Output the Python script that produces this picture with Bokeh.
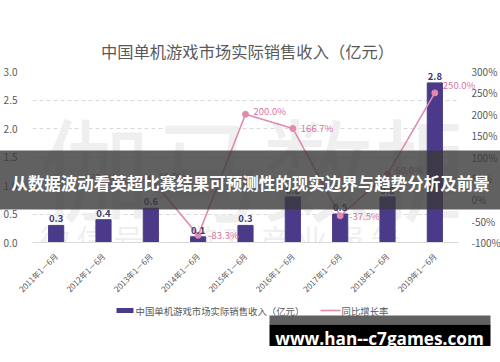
from bokeh.plotting import figure
from bokeh.models import (Range1d, LinearAxis, ColumnDataSource, FixedTicker, PrintfTickFormatter)
from bokeh.embed import file_html
from bokeh.resources import INLINE
from bokeh.core.properties import value

# ---- data ----
periods = ["2011年1－6月", "2012年1－6月", "2013年1－6月", "2014年1－6月", "2015年1－6月",
           "2016年1－6月", "2017年1－6月", "2018年1－6月", "2019年1－6月"]
revenue = [0.3, 0.4, 0.6, 0.1, 0.3, 0.8, 0.5, 0.8, 2.8]
growth = [33.3, 50.0, -83.3, 200.0, 166.7, -37.5, 60.0, 250.0]   # from 2012 on
left_ticks = [0.0, 0.5, 1.0, 1.5, 2.0, 2.5, 3.0]
right_ticks = [-100, -50, 0, 50, 100, 150, 200, 250, 300]

title_text = "中国单机游戏市场实际销售收入（亿元）"
bar_name = "中国单机游戏市场实际销售收入（亿元）"
line_name = "同比增长率"
banner_text = "从数据波动看英超比赛结果可预测性的现实边界与趋势分析及前景"
site_text = "www.han--c7games.com"
watermark_big = "伽马数据"
watermark_small = "微  信  号  ：  游  戏  产  业  报  告"

# label styling (offsets in px)
pct_align = ["center", "left", "left", "left", "left", "left", "left", "left"]
pct_dx = [0, 8, 10, 8, 8, 9, 8, 8]
pct_dy = [-9, -2, 0, -3, 0, 0, -4, -8]

FONT = "Noto Sans CJK SC"
BAR_COLOR = "#4b3a8a"
LINE_COLOR = "#e08ab0"
PCT_TEXT = "#d9739f"
AX_TEXT = "#595959"

# layout (canvas px)
W, H = 484, 346
FL, FT, FW, FH = 24, 71, 426, 171

idx = list(range(len(periods)))
bar_src = ColumnDataSource(dict(pos=idx, revenue=revenue,
                                label=[f"{v:.1f}" for v in revenue]))
line_src = ColumnDataSource(dict(pos=idx[1:], growth=growth,
                                 label=[f"{v:.1f}%" for v in growth],
                                 align=pct_align, dx=pct_dx, dy=pct_dy))

p = figure(x_range=Range1d(-0.5, len(periods) - 0.5), y_range=Range1d(0, 3),
           frame_width=FW, frame_height=FH,
           min_border_left=FL, min_border_right=W - FL - FW,
           min_border_top=FT, min_border_bottom=H - FT - FH,
           output_backend="svg", toolbar_location=None,
           background_fill_color="white", border_fill_color="white", outline_line_color=None)
p.extra_y_ranges = {"pct": Range1d(-100, 300),
                    "cy": Range1d(FT + FH, FT)}          # canvas pixel rows (y down)
p.extra_x_ranges = {"cx": Range1d(FL, FL + FW)}           # canvas pixel columns

def cv(**kw):
    kw.update(x_range_name="cx", y_range_name="cy")
    return kw

# watermark
p.text(**cv(x=[254], y=[164], text=[watermark_big], text_font=value(FONT),
            text_font_size="112px", text_color="#efefef", text_align="center",
            text_baseline="middle"))
p.text(**cv(x=[242], y=[237], text=[watermark_small], text_font=value(FONT),
            text_font_size="30px", text_color="#efefef", text_align="center",
            text_baseline="middle"))

# axes
p.xaxis.ticker = FixedTicker(ticks=idx)
p.xaxis.major_label_overrides = {i: s for i, s in zip(idx, periods)}
p.xaxis.major_label_orientation = 0.785398
p.xaxis.major_label_text_font = FONT
p.xaxis.major_label_text_font_size = "8px"
p.xaxis.major_label_text_color = AX_TEXT
p.xaxis.axis_line_color = "#d9d9d9"
p.xaxis.major_tick_line_color = None
p.xaxis.minor_tick_line_color = None
p.xaxis.major_label_standoff = 6

p.yaxis.ticker = FixedTicker(ticks=left_ticks)
p.yaxis.formatter = PrintfTickFormatter(format="%.1f")
p.yaxis.axis_line_color = None
p.yaxis.major_tick_line_color = None
p.yaxis.minor_tick_line_color = None
p.yaxis.major_label_text_font = FONT
p.yaxis.major_label_text_font_size = "10px"
p.yaxis.major_label_text_color = AX_TEXT
p.yaxis.major_label_standoff = 9

ry = LinearAxis(y_range_name="pct", ticker=FixedTicker(ticks=right_ticks),
                formatter=PrintfTickFormatter(format="%d%%"))
ry.axis_line_color = None
ry.major_tick_line_color = None
ry.minor_tick_line_color = None
ry.major_label_text_font = FONT
ry.major_label_text_font_size = "10px"
ry.major_label_text_color = AX_TEXT
ry.major_label_standoff = 7
p.add_layout(ry, "right")

p.xgrid.grid_line_color = None
p.ygrid.grid_line_color = "#d9d9d9"
p.ygrid.grid_line_dash = "4 3"

# bars
bars = p.vbar(x="pos", top="revenue", width=0.32, source=bar_src,
              fill_color=BAR_COLOR, line_color=BAR_COLOR)
p.text(x="pos", y="revenue", text="label", source=bar_src, text_align="center",
       text_baseline="bottom", y_offset=-3, text_font=value(FONT), text_font_size="9.5px",
       text_color="#3d3a6e", text_font_style="bold", level="overlay")

# growth line
ln = p.line(x="pos", y="growth", y_range_name="pct", source=line_src,
            line_color=LINE_COLOR, line_width=1.6)
mk = p.scatter(x="pos", y="growth", y_range_name="pct", source=line_src,
               size=6, fill_color=LINE_COLOR, line_color=LINE_COLOR)
p.text(x="pos", y="growth", y_range_name="pct", text="label", source=line_src,
       text_align="align", x_offset="dx", y_offset="dy", text_baseline="middle",
       text_font=value(FONT), text_font_size="9.5px", text_color=PCT_TEXT, level="overlay")

# title
p.text(**cv(x=[239], y=[50], text=[title_text], text_font=value(FONT),
            text_font_size="16.3px", text_color=AX_TEXT, text_align="center",
            text_baseline="middle", level="overlay"))

# legend (drawn below the axis labels)
p.quad(**cv(left=[108], right=[125], top=[307.5], bottom=[312.5], fill_color=BAR_COLOR,
            line_color=None, level="overlay"))
p.text(**cv(x=[127], y=[310], text=[bar_name], text_font=value(FONT),
            text_font_size="9.4px", text_color=AX_TEXT, text_align="left",
            text_baseline="middle", level="overlay"))
p.line(**cv(x=[312, 332], y=[310, 310], line_color=LINE_COLOR, line_width=1.6,
            level="overlay"))
p.scatter(**cv(x=[322], y=[310], size=5, fill_color=LINE_COLOR, line_color=LINE_COLOR,
               level="overlay"))
p.text(**cv(x=[333], y=[310], text=[line_name], text_font=value(FONT),
            text_font_size="9.4px", text_color=AX_TEXT, text_align="left",
            text_baseline="middle", level="overlay"))

# banner overlay
p.quad(**cv(left=[-10], right=[500], top=[150], bottom=[209], fill_color="#3a3a3a",
            fill_alpha=0.8, line_color=None, level="overlay"))
p.text(**cv(x=[242], y=[182], text=[banner_text], text_font=value(FONT),
            text_font_size="16.5px", text_font_style="bold", text_color="white",
            text_align="center", text_baseline="middle", level="overlay"))

# site box
p.quad(**cv(left=[261], right=[482], top=[315], bottom=[324], fill_color="#616161",
            line_color=None, level="overlay"))
p.quad(**cv(left=[261], right=[482], top=[324], bottom=[351], fill_color="black",
            line_color=None, level="overlay"))
p.text(**cv(x=[371], y=[337.5], text=[site_text], text_font=value("Open Sans"),
            text_font_size="17.2px", text_font_style="bold", text_color="white",
            text_align="center", text_baseline="middle", level="overlay"))

open("out.html", "w").write(file_html(p, INLINE))
